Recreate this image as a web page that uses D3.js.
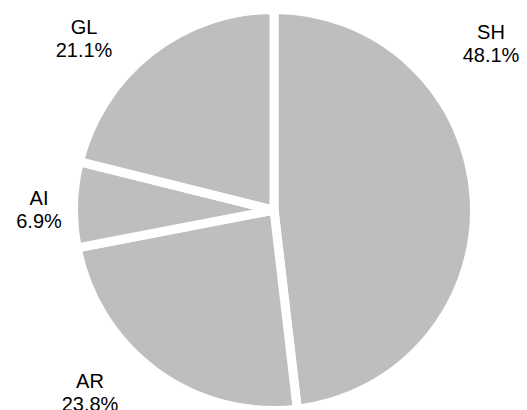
<!DOCTYPE html>
<html>
<head>
<meta charset="utf-8">
<script src="https://cdn.jsdelivr.net/npm/d3@7"></script>
<style>
  html, body { margin: 0; padding: 0; background: #fff; }
  svg { display: block; }
  text { font-family: "Liberation Sans", Arial, sans-serif; fill: #000; }
</style>
</head>
<body>
<div id="chart"></div>
<script>
// ---- data ----
const categories = ["SH", "AR", "AI", "GL"];
const shares = [48.1, 23.8, 6.9, 21.1];
const percentLabels = ["48.1%", "23.8%", "6.9%", "21.1%"];

// ---- layout (positions only) ----
const W = 527, H = 410;
const cx = 274, cy = 210, outerR = 200.5;
const labelPos = {          // label anchor (center x, first baseline y)
  SH: [491, 39],
  AR: [90, 387.5],
  AI: [39, 204.5],
  GL: [84, 34]
};
const lineGap = 23;
const fontSize = 20;

const svg = d3.select("#chart").append("svg")
  .attr("width", W).attr("height", H);

const pie = d3.pie().sort(null).value(d => d.value);
const data = categories.map((c, i) => ({ name: c, value: shares[i], pct: percentLabels[i] }));
const arcs = pie(data);

const arc = d3.arc().innerRadius(0).outerRadius(outerR);

const g = svg.append("g").attr("transform", `translate(${cx},${cy})`);
g.selectAll("path.slice")
  .data(arcs)
  .join("path")
  .attr("class", "slice")
  .attr("d", arc)
  .attr("fill", "#bebebe")
  .attr("stroke", "#ffffff")
  .attr("stroke-width", 9)
  .attr("stroke-linejoin", "miter");

const labels = svg.selectAll("text.lbl")
  .data(arcs)
  .join("text")
  .attr("class", "lbl")
  .attr("text-anchor", "middle")
  .attr("font-size", fontSize);

labels.append("tspan")
  .attr("x", d => labelPos[d.data.name][0])
  .attr("y", d => labelPos[d.data.name][1])
  .text(d => d.data.name);
labels.append("tspan")
  .attr("x", d => labelPos[d.data.name][0])
  .attr("y", d => labelPos[d.data.name][1] + lineGap)
  .text(d => d.data.pct);
</script>
</body>
</html>
